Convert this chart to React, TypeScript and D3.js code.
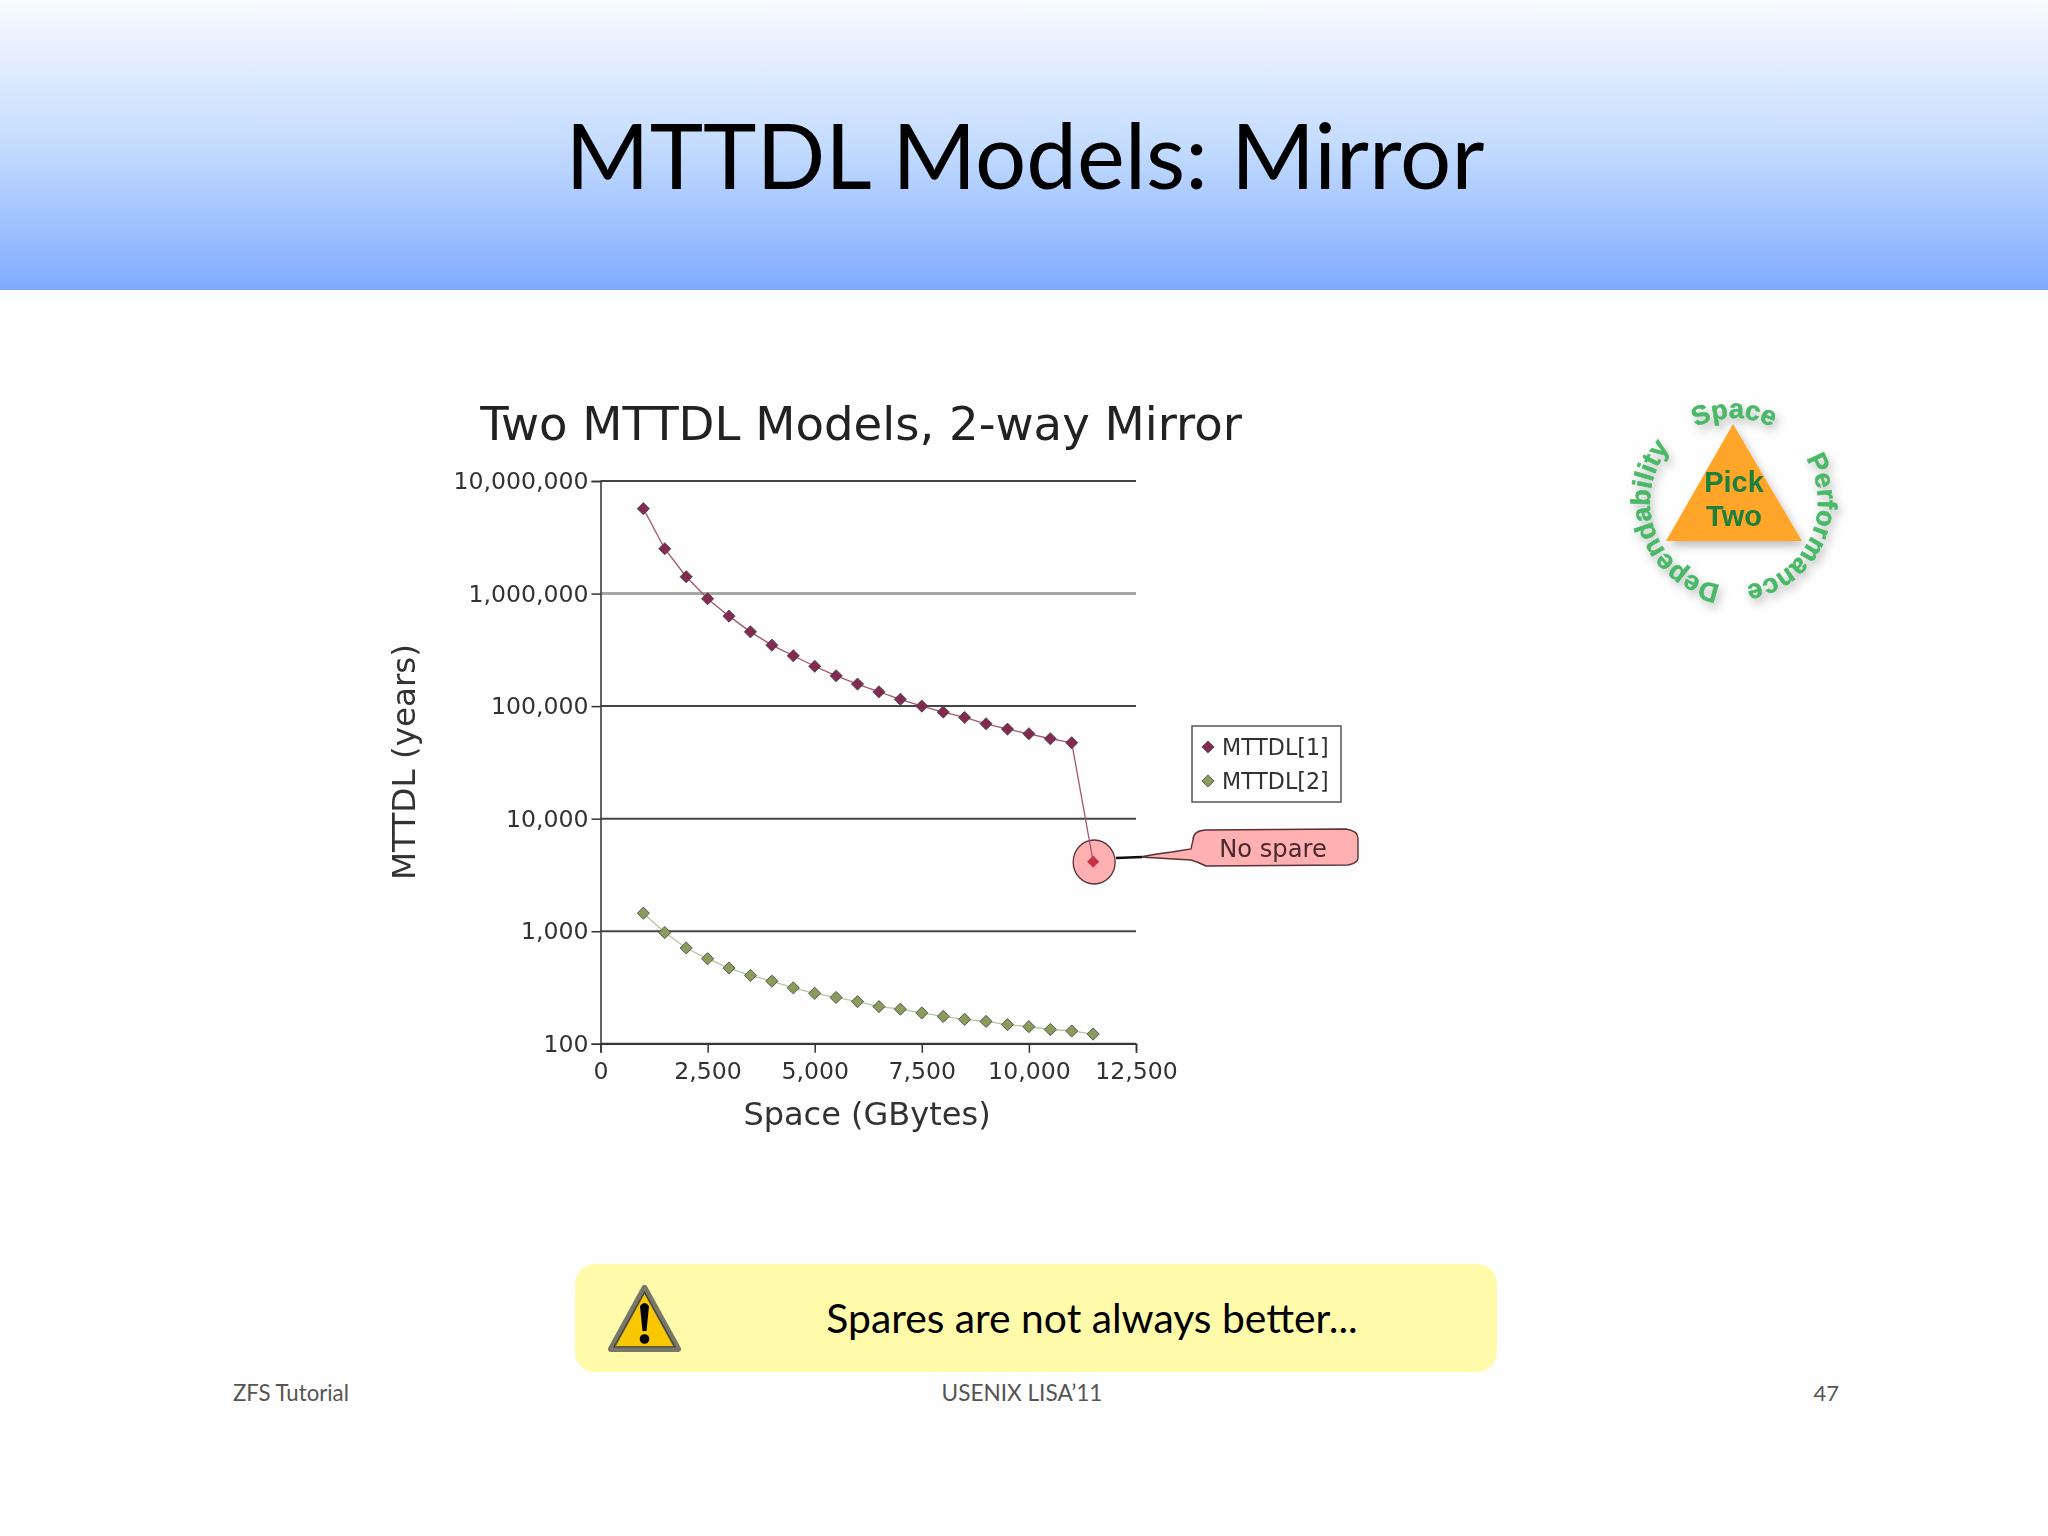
import React, { useEffect, useRef } from "react";
import * as d3 from "d3";

const spaceGB = [
  1000, 1500, 2000, 2500, 3000, 3500, 4000, 4500, 5000, 5500, 6000, 6500, 7000,
  7500, 8000, 8500, 9000, 9500, 10000, 10500, 11000, 11500,
];
const mttdl1 = [
  5680000, 2500000, 1410000, 900000, 630000, 457000, 348000, 280000, 226000,
  186000, 157000, 134000, 115000, 100000, 88500, 79300, 69700, 62500, 56800,
  51300, 47300, 4150,
];
const mttdl2 = [
  1448, 973, 710, 570, 471, 405, 360, 314, 281, 258, 237, 214, 203, 188, 175,
  165, 158, 148, 142, 134, 130, 122,
];
const xTicks = [0, 2500, 5000, 7500, 10000, 12500];
const yTicks = [100, 1000, 10000, 100000, 1000000, 10000000];
const seriesNames = ["MTTDL[1]", "MTTDL[2]"];

const CHART_FONT = "'DejaVu Sans', sans-serif";
const SLIDE_FONT = "Lato, sans-serif";
const LOGO_FONT = "'Liberation Sans', sans-serif";

const App: React.FC = () => {
  const svgRef = useRef<SVGSVGElement | null>(null);

  useEffect(() => {
    if (!svgRef.current) return;
    const svg = d3.select(svgRef.current);
    svg.selectAll("*").remove();

    const defs = svg.append("defs");
    const header = defs
      .append("linearGradient")
      .attr("id", "header")
      .attr("x1", "0%")
      .attr("x2", "0%")
      .attr("y1", "0%")
      .attr("y2", "100%");
    header.append("stop").attr("offset", "0%").attr("stop-color", "#f9fbff");
    header.append("stop").attr("offset", "50%").attr("stop-color", "#c4dcff");
    header.append("stop").attr("offset", "100%").attr("stop-color", "#7fabff");

    defs
      .append("filter")
      .attr("id", "soft")
      .append("feGaussianBlur")
      .attr("stdDeviation", 0.7);
    const shadow = defs
      .append("filter")
      .attr("id", "shadow")
      .attr("x", "-30%")
      .attr("y", "-30%")
      .attr("width", "160%")
      .attr("height", "160%");
    shadow
      .append("feDropShadow")
      .attr("dx", 3)
      .attr("dy", 5)
      .attr("stdDeviation", 4)
      .attr("flood-color", "#000")
      .attr("flood-opacity", 0.25);

    // slide background and header band
    svg.append("rect").attr("width", 2048).attr("height", 1536).attr("fill", "#fefefe");
    svg.append("rect").attr("width", 2048).attr("height", 290).attr("fill", "url(#header)");
    svg
      .append("text")
      .attr("x", 1025)
      .attr("y", 189)
      .attr("text-anchor", "middle")
      .attr("font-family", SLIDE_FONT)
      .attr("font-size", 90.5)
      .attr("fill", "#000")
      .text("MTTDL Models: Mirror");

    // chart
    const x = d3.scaleLinear().domain([0, 12500]).range([600.5, 1136]);
    const y = d3.scaleLog().domain([100, 10000000]).range([1043.8, 481]);
    const chart = svg.append("g").attr("filter", "url(#soft)");

    chart
      .append("text")
      .attr("x", 861)
      .attr("y", 440)
      .attr("text-anchor", "middle")
      .attr("font-family", CHART_FONT)
      .attr("font-size", 46.6)
      .attr("fill", "#222")
      .text("Two MTTDL Models, 2-way Mirror");

    yTicks.forEach((t) => {
      chart
        .append("line")
        .attr("x1", x(0))
        .attr("x2", x(12500))
        .attr("y1", y(t))
        .attr("y2", y(t))
        .attr("stroke", t === 1000000 ? "#a8a8a8" : "#444")
        .attr("stroke-width", t === 1000000 ? 3 : 2);
    });

    const yAxis = chart
      .append("g")
      .attr("transform", `translate(${x(0)},0)`)
      .call(
        d3
          .axisLeft(y)
          .tickValues(yTicks)
          .tickSize(9)
          .tickPadding(3)
          .tickFormat((d) => d3.format(",")(Number(d)))
      );
    const xAxis = chart
      .append("g")
      .attr("transform", `translate(0,${y(100)})`)
      .call(
        d3
          .axisBottom(x)
          .tickValues(xTicks)
          .tickSize(9)
          .tickPadding(9)
          .tickFormat((d) => d3.format(",")(Number(d)))
      );
    [yAxis, xAxis].forEach((axis) => {
      axis.selectAll("path").attr("stroke", "#333").attr("stroke-width", 1.5);
      axis.selectAll("line").attr("stroke", "#333").attr("stroke-width", 1.5);
      axis
        .selectAll("text")
        .attr("font-family", CHART_FONT)
        .attr("font-size", 23.6)
        .attr("fill", "#333");
    });

    chart
      .append("text")
      .attr("transform", `translate(415,762) rotate(-90)`)
      .attr("text-anchor", "middle")
      .attr("font-family", CHART_FONT)
      .attr("font-size", 32.6)
      .attr("fill", "#333")
      .text("MTTDL (years)");
    chart
      .append("text")
      .attr("x", 867)
      .attr("y", 1125)
      .attr("text-anchor", "middle")
      .attr("font-family", CHART_FONT)
      .attr("font-size", 32)
      .attr("fill", "#333")
      .text("Space (GBytes)");

    // highlight circle sits under the last point
    chart
      .append("ellipse")
      .attr("cx", x(11500) + 1)
      .attr("cy", 862)
      .attr("rx", 21)
      .attr("ry", 22)
      .attr("fill", "#ffb0b0")
      .attr("stroke", "#5a3036")
      .attr("stroke-width", 1.3);

    const line = d3
      .line<number>()
      .x((_, i) => x(spaceGB[i]))
      .y((d) => y(d));
    const diamond = d3.symbol().type(d3.symbolSquare).size(74);

    const drawSeries = (
      values: number[],
      stroke: string,
      fill: string,
      lastFill?: string
    ) => {
      chart
        .append("path")
        .datum(values)
        .attr("fill", "none")
        .attr("stroke", stroke)
        .attr("stroke-width", 1.3)
        .attr("d", line);
      chart
        .append("g")
        .selectAll("path")
        .data(values)
        .join("path")
        .attr("d", diamond)
        .attr("transform", (d, i) => `translate(${x(spaceGB[i])},${y(d)}) rotate(45)`)
        .attr("fill", (_, i) => (lastFill && i === values.length - 1 ? lastFill : fill))
        .attr("stroke", "#4a4448")
        .attr("stroke-width", (_, i) => (lastFill && i === values.length - 1 ? 0 : 0.8));
    };
    drawSeries(mttdl1, "#a5566f", "#822c50", "#c8324a");
    drawSeries(mttdl2, "#b6c79c", "#8a9c5c");

    // legend
    const legend = chart.append("g").attr("transform", "translate(1192,726)");
    legend
      .append("rect")
      .attr("width", 149)
      .attr("height", 76)
      .attr("fill", "#fff")
      .attr("stroke", "#555")
      .attr("stroke-width", 1.5);
    seriesNames.forEach((name, i) => {
      const rowY = 21 + i * 34;
      legend
        .append("path")
        .attr("d", diamond)
        .attr("transform", `translate(16,${rowY}) rotate(45)`)
        .attr("fill", i === 0 ? "#822c50" : "#8a9c5c")
        .attr("stroke", "#4a4448")
        .attr("stroke-width", 0.8);
      legend
        .append("text")
        .attr("x", 30)
        .attr("y", rowY + 8)
        .attr("font-family", CHART_FONT)
        .attr("font-size", 22.2)
        .attr("fill", "#333")
        .text(name);
    });

    // callout
    chart
      .append("path")
      .attr(
        "d",
        "M1140,857 L1157,854 L1172,852 L1191,849 L1193,840 Q1193,831 1205,830 L1346,829 Q1358,831 1358,838 L1358,858 Q1358,863 1348,865 L1206,866 Q1198,862 1191,860 Z"
      )
      .attr("fill", "#ffb0b0")
      .attr("stroke", "#5a3036")
      .attr("stroke-width", 1.4);
    chart
      .append("line")
      .attr("x1", 1116)
      .attr("x2", 1142)
      .attr("y1", 858)
      .attr("y2", 857)
      .attr("stroke", "#111")
      .attr("stroke-width", 2.5);
    chart
      .append("text")
      .attr("x", 1273)
      .attr("y", 857)
      .attr("text-anchor", "middle")
      .attr("font-family", CHART_FONT)
      .attr("font-size", 24.2)
      .attr("fill", "#4a2a30")
      .text("No spare");

    // pick two logo
    const logo = svg.append("g").attr("filter", "url(#soft)");
    logo
      .append("path")
      .attr("d", "M1733,424 L1802,541 L1666,541 Z")
      .attr("fill", "#ffa52a")
      .attr("filter", "url(#shadow)");
    ["Pick", "Two"].forEach((word, i) => {
      logo
        .append("text")
        .attr("x", 1734)
        .attr("y", 492 + i * 34)
        .attr("text-anchor", "middle")
        .attr("font-family", LOGO_FONT)
        .attr("font-weight", "bold")
        .attr("font-size", 29)
        .attr("fill", "#1a7f3a")
        .text(word);
    });
    const ringCx = 1734;
    const ringCy = 502;
    const ringR = 84;
    defs
      .append("path")
      .attr("id", "ring")
      .attr(
        "d",
        `M${ringCx},${ringCy + ringR} A${ringR},${ringR} 0 1 1 ${ringCx},${ringCy - ringR} A${ringR},${ringR} 0 1 1 ${ringCx},${ringCy + ringR}`
      );
    (
      [
        ["Space", "50%"],
        ["Performance", "82%"],
        ["Dependability", "19.4%"],
      ] as const
    ).forEach(([word, offset]) => {
      logo
        .append("text")
        .attr("font-family", LOGO_FONT)
        .attr("font-weight", "bold")
        .attr("font-size", 27)
        .attr("fill", "#4cb868")
        .attr("stroke", "#4cb868")
        .attr("stroke-width", 0.6)
        .attr("text-anchor", "middle")
        .attr("filter", "url(#shadow)")
        .append("textPath")
        .attr("href", "#ring")
        .attr("startOffset", offset)
        .text(word);
    });

    // note box
    svg
      .append("rect")
      .attr("x", 575)
      .attr("y", 1264)
      .attr("width", 922)
      .attr("height", 108)
      .attr("rx", 20)
      .attr("fill", "#fffbaa");
    const warning = svg.append("g").attr("filter", "url(#soft)");
    warning
      .append("path")
      .attr("d", "M644.5,1288 L678,1349 L611,1349 Z")
      .attr("fill", "#f9c800")
      .attr("stroke", "#77776a")
      .attr("stroke-width", 6)
      .attr("stroke-linejoin", "round");
    warning
      .append("path")
      .attr("d", "M644.5,1292 L675,1347 L614,1347 Z")
      .attr("fill", "none")
      .attr("stroke", "#4a4420")
      .attr("stroke-width", 1.2);
    warning
      .append("path")
      .attr("d", "M640,1306 Q644.5,1300 649,1306 L646.5,1331 L642.5,1331 Z")
      .attr("fill", "#000");
    warning.append("circle").attr("cx", 644.5).attr("cy", 1339).attr("r", 4.8).attr("fill", "#000");
    svg
      .append("text")
      .attr("x", 1092)
      .attr("y", 1333)
      .attr("text-anchor", "middle")
      .attr("font-family", SLIDE_FONT)
      .attr("font-size", 40.8)
      .attr("fill", "#000")
      .text("Spares are not always better...");

    // footer
    const footer = (label: string, fx: number, anchor: string, size: number) =>
      svg
        .append("text")
        .attr("x", fx)
        .attr("y", 1401)
        .attr("text-anchor", anchor)
        .attr("font-family", SLIDE_FONT)
        .attr("font-size", size)
        .attr("fill", "#555")
        .text(label);
    footer("ZFS Tutorial", 233, "start", 22.2);
    footer("USENIX LISA’11", 1022, "middle", 22.6);
    footer("47", 1839, "end", 22);
  }, []);

  return (
    <svg
      ref={svgRef}
      width={2048}
      height={1536}
      style={{ position: "absolute", left: 0, top: 0 }}
    ></svg>
  );
};

export default App;
